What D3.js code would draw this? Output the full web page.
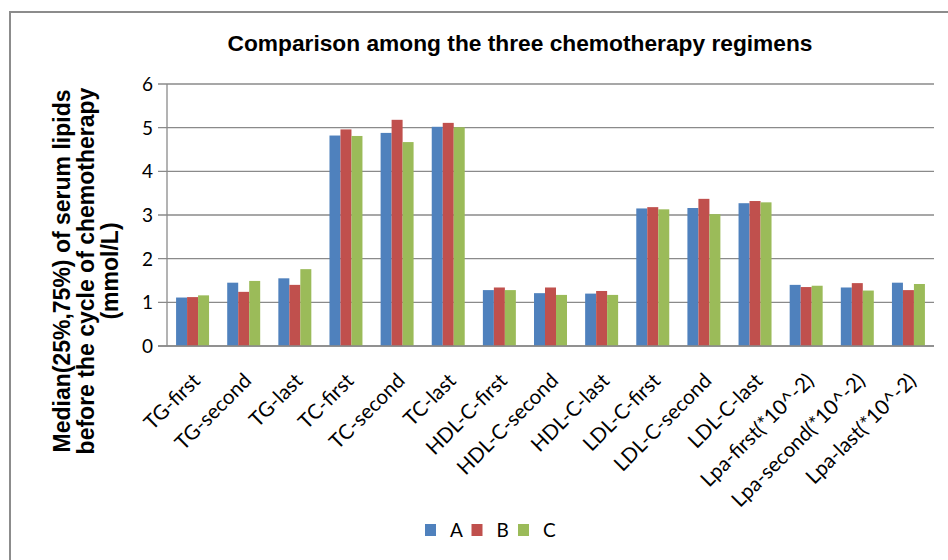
<!DOCTYPE html>
<html>
<head>
<meta charset="utf-8">
<script src="https://cdn.jsdelivr.net/npm/d3@7"></script>
<style>
  body { margin: 0; background: #fff; }
  .grid line { stroke: #8a8a8a; stroke-width: 1.3; }
  .tick-label { font-family: Lato, "Open Sans", sans-serif; font-size: 19px; fill: #000; }
  .cat-label { font-family: Lato, "Open Sans", sans-serif; font-size: 20.5px; fill: #000; }
  .title { font-family: "Liberation Sans", Arial, sans-serif; font-weight: bold; font-size: 22px; }
  .ylabel { font-family: "Liberation Sans", Arial, sans-serif; font-weight: bold; font-size: 23px; }
</style>
</head>
<body>
<div class="app"></div>
<script>
'use strict'

var categories = ["TG-first", "TG-second", "TG-last", "TC-first", "TC-second", "TC-last",
  "HDL-C-first", "HDL-C-second", "HDL-C-last", "LDL-C-first", "LDL-C-second", "LDL-C-last",
  "Lpa-first(*10^-2)", "Lpa-second(*10^-2)", "Lpa-last(*10^-2)"];

var seriesNames = ["A", "B", "C"];
var seriesColors = ["#4F81BD", "#C0504D", "#9BBB59"];

var valuesA = [1.11, 1.45, 1.55, 4.82, 4.88, 5.02, 1.28, 1.21, 1.20, 3.15, 3.16, 3.27, 1.40, 1.34, 1.45];
var valuesB = [1.12, 1.24, 1.40, 4.96, 5.18, 5.11, 1.34, 1.34, 1.26, 3.18, 3.37, 3.32, 1.35, 1.44, 1.28];
var valuesC = [1.16, 1.49, 1.76, 4.81, 4.67, 5.01, 1.28, 1.17, 1.17, 3.13, 3.02, 3.29, 1.38, 1.27, 1.42];

var yTicks = [0, 1, 2, 3, 4, 5, 6];

var W = 948, H = 560;
var plot = { left: 167, right: 934, top: 84, bottom: 346 };

var svg = d3.select(".app").append("svg")
  .attr("width", W)
  .attr("height", H);

// chart frame (runs off the right/bottom edge in the picture)
svg.append("rect")
  .attr("x", 10).attr("y", 12)
  .attr("width", W + 20).attr("height", H + 20)
  .attr("fill", "#fff")
  .attr("stroke", "#8c8c8c")
  .attr("stroke-width", 2);

var x0 = d3.scaleBand()
  .domain(categories)
  .range([plot.left, plot.right])
  .paddingInner(0.355)
  .paddingOuter(0.1775);

var x1 = d3.scaleBand()
  .domain(seriesNames)
  .range([0, x0.bandwidth()]);

var y = d3.scaleLinear()
  .domain([0, 6])
  .range([plot.bottom, plot.top]);

// gridlines + tick marks
var grid = svg.append("g").attr("class", "grid");
grid.selectAll("line")
  .data(yTicks)
  .enter().append("line")
  .attr("x1", plot.left - 9)
  .attr("x2", plot.right)
  .attr("y1", function(d) { return y(d); })
  .attr("y2", function(d) { return y(d); });

// y axis line
svg.append("line")
  .attr("x1", plot.left).attr("x2", plot.left)
  .attr("y1", plot.top).attr("y2", plot.bottom)
  .attr("stroke", "#8a8a8a").attr("stroke-width", 1.3);

svg.selectAll("text.tick-label")
  .data(yTicks)
  .enter().append("text")
  .attr("class", "tick-label")
  .attr("x", plot.left - 14)
  .attr("y", function(d) { return y(d); })
  .attr("dy", "0.36em")
  .attr("text-anchor", "end")
  .text(function(d) { return d; });

// bars
var rows = categories.map(function(c, i) {
  return { cat: c, vals: [valuesA[i], valuesB[i], valuesC[i]] };
});

var groups = svg.append("g").selectAll("g")
  .data(rows)
  .enter().append("g")
  .attr("transform", function(d) { return "translate(" + x0(d.cat) + ",0)"; });

groups.selectAll("rect")
  .data(function(d) {
    return d.vals.map(function(v, j) { return { s: seriesNames[j], v: v, j: j }; });
  })
  .enter().append("rect")
  .attr("x", function(d) { return x1(d.s); })
  .attr("width", x1.bandwidth())
  .attr("y", function(d) { return y(d.v); })
  .attr("height", function(d) { return y(0) - y(d.v); })
  .attr("fill", function(d) { return seriesColors[d.j]; });

// x axis baseline on top of bars
svg.append("line")
  .attr("x1", plot.left - 9).attr("x2", plot.right)
  .attr("y1", plot.bottom).attr("y2", plot.bottom)
  .attr("stroke", "#8a8a8a").attr("stroke-width", 1.3);

// category labels, rotated
svg.selectAll("text.cat-label")
  .data(categories)
  .enter().append("text")
  .attr("class", "cat-label")
  .attr("text-anchor", "end")
  .attr("transform", function(d) {
    var cx = x0(d) + x0.bandwidth() / 2;
    return "translate(" + (cx + 9) + "," + 382 + ") rotate(-45)";
  })
  .text(function(d) { return d; });

// title
svg.append("text")
  .attr("class", "title")
  .attr("x", 520).attr("y", 51)
  .attr("text-anchor", "middle")
  .attr("textLength", 585)
  .attr("lengthAdjust", "spacingAndGlyphs")
  .text("Comparison among the three chemotherapy regimens");

// y axis title
var yLines = ["Median(25%,75%) of serum lipids", "before the cycle of chemotherapy", "(mmol/L)"];
svg.append("g")
  .attr("transform", "translate(70,271) rotate(-90)")
  .selectAll("text")
  .data(yLines)
  .enter().append("text")
  .attr("class", "ylabel")
  .attr("text-anchor", "middle")
  .attr("x", 0)
  .attr("y", function(d, i) { return i * 24; })
  .text(function(d) { return d; });

// legend
var legend = svg.append("g").attr("transform", "translate(425,530)");
var li = legend.selectAll("g")
  .data(seriesNames)
  .enter().append("g")
  .attr("transform", function(d, i) { return "translate(" + (i * 46.5) + ",0)"; });
li.append("rect")
  .attr("x", 0).attr("y", -6)
  .attr("width", 11).attr("height", 12)
  .attr("fill", function(d, i) { return seriesColors[i]; });
li.append("text")
  .attr("class", "tick-label")
  .attr("x", 25)
  .attr("dy", "0.36em")
  .style("font-size", "19px")
  .text(function(d) { return d; });
</script>
</body>
</html>
